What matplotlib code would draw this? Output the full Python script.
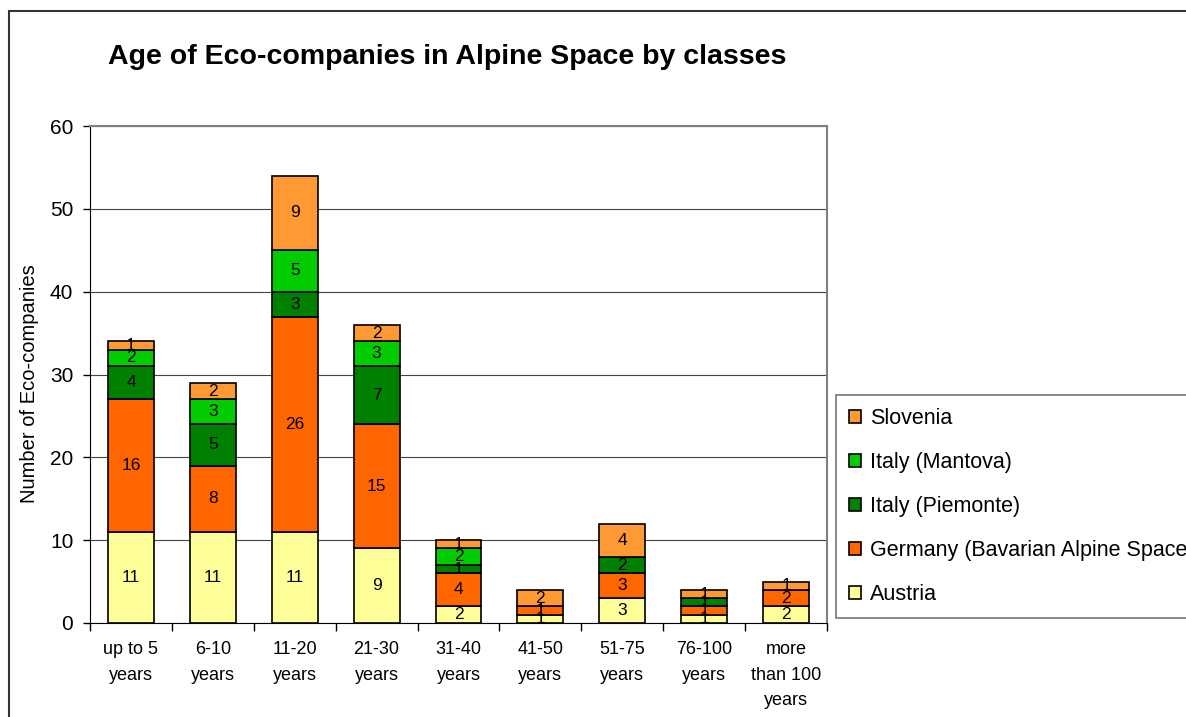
import matplotlib
matplotlib.use("Agg")
import matplotlib.pyplot as plt
import matplotlib.patches as mpatches
import numpy as np

plt.rcParams['font.family'] = ['Liberation Sans', 'DejaVu Sans']

# data
classes = ["up to 5\nyears", "6-10\nyears", "11-20\nyears", "21-30\nyears",
           "31-40\nyears", "41-50\nyears", "51-75\nyears", "76-100\nyears",
           "more\nthan 100\nyears"]
austria = [11, 11, 11, 9, 2, 1, 3, 1, 2]
germany = [16, 8, 26, 15, 4, 1, 3, 1, 2]
piemonte = [4, 5, 3, 7, 1, 0, 2, 1, 0]
mantova = [2, 3, 5, 3, 2, 0, 0, 0, 0]
slovenia = [1, 2, 9, 2, 1, 2, 4, 1, 1]

series = [
    ("Austria", austria, "#FFFF99"),
    ("Germany (Bavarian Alpine Space)", germany, "#FF6600"),
    ("Italy (Piemonte)", piemonte, "#008000"),
    ("Italy (Mantova)", mantova, "#00CC00"),
    ("Slovenia", slovenia, "#FF9933"),
]

W, H = 1186, 717
fig = plt.figure(figsize=(W / 100, H / 100), dpi=100)
ax = fig.add_axes([90 / W, 1 - 623 / H, (827 - 90) / W, (623 - 126) / H])

x = np.arange(len(classes))
bottom = np.zeros(len(classes))
handles = []
for name, vals, col in series:
    vals = np.array(vals)
    bars = ax.bar(x, vals, 0.56, bottom=bottom, color=col, edgecolor="black",
                  linewidth=1.2, label=name, zorder=3)
    for xi, b, v in zip(x, bottom, vals):
        if v > 0:
            ax.text(xi, b + v / 2, str(v), ha="center", va="center",
                    fontsize=12.5, zorder=4)
    bottom = bottom + vals
    handles.append(bars)

ax.set_xlim(-0.5, len(classes) - 0.5)
ax.set_ylim(0, 60)
ax.set_yticks(range(0, 61, 10))
ax.yaxis.grid(True, color="#444444", linewidth=0.8, zorder=0)
ax.tick_params(axis="y", labelsize=15, length=5, width=1, pad=7)

ax.set_xticks(np.arange(-0.5, len(classes), 1))
ax.set_xticklabels([])
ax.tick_params(axis="x", which="major", length=6, width=1)
ax.set_xticks(x, minor=True)
ax.set_xticklabels(classes, minor=True, fontsize=13, linespacing=1.65)
ax.tick_params(axis="x", which="minor", length=0, pad=13)

for s in ["top", "right"]:
    ax.spines[s].set_color("#808080")
    ax.spines[s].set_linewidth(1.5)
ax.spines["left"].set_color("black")
ax.spines["bottom"].set_color("black")

fig.text(30 / W, 1 - 384 / H, "Number of Eco-companies", rotation=90,
         ha="center", va="center", fontsize=14.5)
fig.text(108 / W, 1 - 57 / H, "Age of Eco-companies in Alpine Space by classes",
         ha="left", va="center", fontsize=20.5, fontweight="bold")

leg = fig.legend(handles[::-1], [s[0] for s in series][::-1],
                 loc="upper left", bbox_to_anchor=(836 / W, 1 - 395 / H),
                 fontsize=15.5, frameon=True, fancybox=False,
                 edgecolor="#555555", handlelength=0.56, handleheight=0.56,
                 handletextpad=0.42, labelspacing=1.07, borderpad=0.6,
                 borderaxespad=0)
leg.get_frame().set_linewidth(1.2)

# outer chart border (runs off the right and bottom of the image)
fig.patches.append(mpatches.Rectangle((9 / W, -0.1), 1.2, 1.1 - 11 / H,
                                      transform=fig.transFigure, fill=False,
                                      edgecolor="#333333", linewidth=1.5,
                                      clip_on=False))

fig.savefig("out.png", dpi=100)
